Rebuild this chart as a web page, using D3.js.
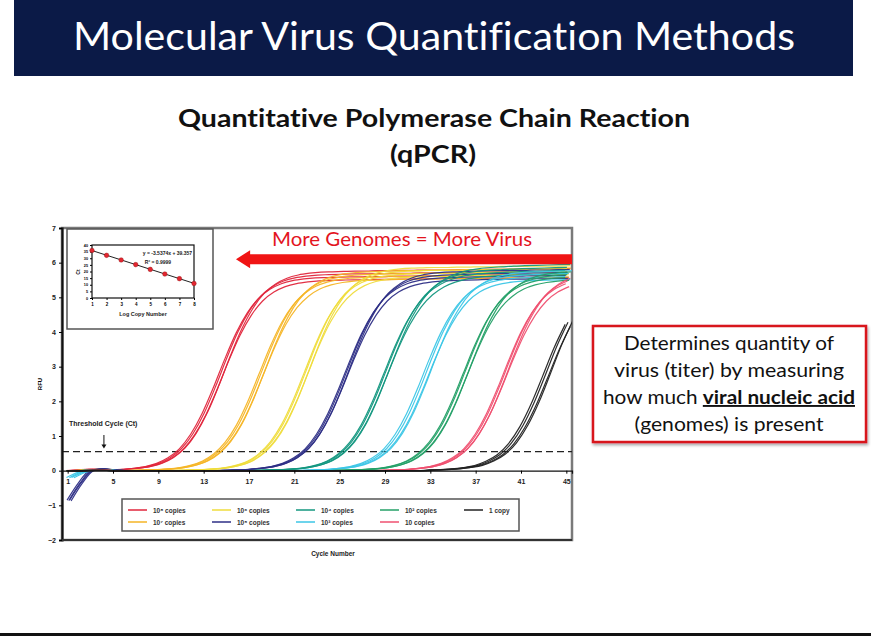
<!DOCTYPE html>
<html><head><meta charset="utf-8">
<script src="https://cdn.jsdelivr.net/npm/d3@7"></script>
<style>body{margin:0;background:#fff} svg{display:block} svg text{font-variant-ligatures:none}</style>
</head><body><svg id="c" width="871" height="636"></svg>
<script>
// ---------------- DATA ----------------
const slideTitle = "Molecular Virus Quantification Methods";
const chartTitle = ["Quantitative Polymerase Chain Reaction", "(qPCR)"];
const arrowText = "More Genomes = More Virus";
const boxLines = ["Determines quantity of", "virus (titer) by measuring", "how much ", "viral nucleic acid", "(genomes) is present"];

const cycles = d3.range(1, 46); // cycle numbers 1..45
const xTicks = [1, 5, 9, 13, 17, 21, 25, 29, 33, 37, 41, 45];
const yTicks = [-2, -1, 0, 1, 2, 3, 4, 5, 6, 7];
const threshold = 0.55;

const seriesLabels = ["10⁸ copies", "10⁷ copies", "10⁶ copies", "10⁵ copies", "10⁴ copies", "10³ copies", "10² copies", "10 copies", "1 copy"];
const seriesColors = ["#e0263c", "#f5b526", "#efdc3c", "#2e2f86", "#13977f", "#3cc6e6", "#24a067", "#ef5070", "#222222"];

// RFU per cycle (1..45)
const rfu1e8 = [0,0.02,0.04,0.03,0.02,0.04,0.07,0.12,0.21,0.37,0.63,1.05,1.64,2.39,3.21,3.96,4.55,4.97,5.23,5.39,5.48,5.53,5.56,5.57,5.58,5.59,5.59,5.60,5.60,5.61,5.61,5.62,5.62,5.62,5.63,5.63,5.63,5.64,5.64,5.64,5.65,5.65,5.65,5.66,5.66];
const rfu1e7 = [0,0,0.02,0.03,0.01,0,0.01,0.02,0.03,0.05,0.09,0.16,0.28,0.49,0.82,1.32,2.00,2.80,3.60,4.28,4.78,5.11,5.32,5.44,5.51,5.55,5.57,5.58,5.59,5.60,5.60,5.61,5.61,5.62,5.62,5.63,5.63,5.64,5.64,5.65,5.65,5.66,5.66,5.67,5.67];
const rfu1e6 = [0,0.01,0.03,0.04,0.02,0,0,0,0,0,0.01,0.02,0.03,0.05,0.09,0.16,0.28,0.50,0.84,1.35,2.04,2.85,3.67,4.36,4.87,5.21,5.42,5.54,5.61,5.65,5.67,5.68,5.69,5.69,5.70,5.70,5.71,5.71,5.72,5.72,5.72,5.73,5.73,5.73,5.74];
const rfu1e5 = [-0.85,-0.35,0.0,0.05,0.02,0,0,0,0,0,0,0,0,0,0.01,0.02,0.04,0.07,0.12,0.21,0.37,0.63,1.05,1.64,2.39,3.21,3.96,4.55,4.97,5.23,5.39,5.48,5.53,5.56,5.57,5.58,5.59,5.60,5.60,5.61,5.61,5.62,5.62,5.63,5.63];
const rfu1e4 = [0,0,0.02,0.03,0,0,0,0,0,0,0,0,0,0,0,0,0,0.01,0.02,0.03,0.05,0.09,0.16,0.28,0.49,0.82,1.32,2.00,2.80,3.60,4.28,4.80,5.15,5.38,5.52,5.61,5.66,5.69,5.71,5.73,5.74,5.75,5.76,5.77,5.78];
const rfu1e3 = [-0.2,-0.05,0.02,0.03,0,0,0,0,0,0,0,0,0,0,0,0,0,0,0,0,0,0.01,0.02,0.04,0.07,0.12,0.21,0.37,0.63,1.05,1.64,2.39,3.21,3.96,4.55,4.97,5.23,5.39,5.48,5.53,5.56,5.57,5.58,5.59,5.60];
const rfu1e2 = [0,0,0.02,0.02,0,0,0,0,0,0,0,0,0,0,0,0,0,0,0,0,0,0,0,0,0.01,0.02,0.03,0.05,0.09,0.16,0.28,0.49,0.82,1.32,2.00,2.80,3.60,4.28,4.78,5.11,5.32,5.44,5.51,5.55,5.57];
const rfu10  = [0,0,0.01,0.02,0,0,0,0,0,0,0,0,0,0,0,0,0,0,0,0,0,0,0,0,0,0,0,0,0.01,0.02,0.04,0.07,0.12,0.21,0.37,0.63,1.05,1.64,2.39,3.21,3.96,4.55,4.97,5.23,5.39];
const rfu1   = [0,0,0.01,0.01,0,0,0,0,0,0,0,0,0,0,0,0,0,0,0,0,0,0,0,0,0,0,0,0,0,0,0,0,0.02,0.03,0.05,0.09,0.15,0.27,0.46,0.78,1.27,1.93,2.72,3.53,4.22];
const seriesValues = [rfu1e8, rfu1e7, rfu1e6, rfu1e5, rfu1e4, rfu1e3, rfu1e2, rfu10, rfu1];

// replicate spread (cycle shift, RFU factor)
const replicateShift = [
  [-0.15, 0.05, 0.2, 0.35], [-0.1, 0.1, 0.25, 0.4], [-0.1, 0.05, 0.2, 0.35],
  [-0.05, 0.1, 0.2, 0.3], [-0.1, 0.05, 0.2, 0.35], [-0.1, 0.15, 0.35, 0.55],
  [-0.1, 0.05, 0.25, 0.4], [-0.05, 0.1, 0.25, 0.35], [-0.1, 0.15, 0.35, 0.6]];
const replicateScale = [1.0, 1.015, 0.985, 1.03];

// inset standard curve
const logCopy = [1, 2, 3, 4, 5, 6, 7, 8];
const ctValues = [35.9, 32.2, 28.7, 25.2, 21.6, 18.1, 14.6, 11.0];
const fitSlope = -3.5374, fitIntercept = 39.357;
const fitText = ["y = -3.5374x + 39.357", "R² = 0.9999"];
const insetYTicks = [0, 5, 10, 15, 20, 25, 30, 35, 40];

// ---------------- DRAW ----------------
const svg = d3.select("#c");
const slideFont = "Lato, 'Open Sans', sans-serif";
const chartFont = "'Liberation Sans', Arial, sans-serif";

// header
svg.append("rect").attr("x", 14).attr("y", 0).attr("width", 839).attr("height", 76).attr("fill", "#0b1a47");
svg.append("text").attr("x", 434).attr("y", 50).attr("text-anchor", "middle")
  .attr("fill", "#ffffff").style("font-family", slideFont).style("font-size", "38px")
  .attr("textLength", 722).attr("lengthAdjust", "spacingAndGlyphs").text(slideTitle);

// subtitle
svg.append("text").attr("x", 434).attr("y", 127).attr("text-anchor", "middle")
  .style("font-family", slideFont).style("font-weight", "bold").style("font-size", "25px").attr("fill", "#111")
  .attr("textLength", 512).attr("lengthAdjust", "spacingAndGlyphs").text(chartTitle[0]);
svg.append("text").attr("x", 433).attr("y", 163).attr("text-anchor", "middle")
  .style("font-family", slideFont).style("font-weight", "bold").style("font-size", "25px").attr("fill", "#111")
  .attr("textLength", 86).attr("lengthAdjust", "spacingAndGlyphs").text(chartTitle[1]);

// main chart scales
const x = d3.scaleLinear().domain([0.5, 45.5]).range([62, 572]);
const y = d3.scaleLinear().domain([-2, 7]).range([540, 228]);

const defs = svg.append("defs");
defs.append("clipPath").attr("id", "plotclip").append("rect")
  .attr("x", x(0.5)).attr("y", y(7)).attr("width", x(45.5) - x(0.5)).attr("height", y(-2) - y(7));
const sh = defs.append("filter").attr("id", "shadow").attr("x", "-10%").attr("y", "-10%").attr("width", "120%").attr("height", "130%");
sh.append("feDropShadow").attr("dx", 1).attr("dy", 2).attr("stdDeviation", 1.5).attr("flood-color", "#000").attr("flood-opacity", 0.35);

// plot frame
svg.append("rect").attr("x", x(0.5)).attr("y", y(7)).attr("width", x(45.5) - x(0.5)).attr("height", y(-2) - y(7))
  .attr("fill", "#fff").attr("stroke", "#7a7a7a").attr("stroke-width", 2.5);

// threshold line
svg.append("line").attr("x1", x(0.5)).attr("x2", x(45.5)).attr("y1", y(threshold)).attr("y2", y(threshold))
  .attr("stroke", "#222").attr("stroke-width", 1.4).attr("stroke-dasharray", "7,4");

// curves
const line = d3.line().x(d => x(d[0])).y(d => y(d[1])).curve(d3.curveMonotoneX);
const curvesG = svg.append("g").attr("clip-path", "url(#plotclip)");
seriesValues.forEach((vals, g) => {
  replicateShift[g].forEach((s, r) => {
    const pts = cycles.map((c, i) => [c + s, vals[i] * replicateScale[r]]);
    curvesG.append("path").attr("d", line(pts)).attr("fill", "none")
      .attr("stroke", seriesColors[g]).attr("stroke-width", 1.2).attr("opacity", 0.95);
  });
});

// axes
const yAxis = svg.append("g").attr("transform", `translate(${x(0.5)},0)`)
  .call(d3.axisLeft(y).tickValues(yTicks).tickSize(3).tickPadding(3).tickFormat(d3.format("d")));
yAxis.select(".domain").attr("stroke", "#111").attr("stroke-width", 2.2);
yAxis.selectAll("text").style("font-family", chartFont).style("font-size", "7px").style("font-weight", "bold").attr("fill", "#222");

const xAxis = svg.append("g").attr("transform", `translate(0,${y(0)})`)
  .call(d3.axisBottom(x).tickValues(xTicks).tickSize(3).tickPadding(5));
xAxis.select(".domain").attr("stroke", "#111").attr("stroke-width", 1.2);
xAxis.selectAll("text").style("font-family", chartFont).style("font-size", "7px").style("font-weight", "bold").attr("fill", "#222");

// bottom border darker
svg.append("line").attr("x1", x(0.5)).attr("x2", x(45.5)).attr("y1", y(-2)).attr("y2", y(-2)).attr("stroke", "#333").attr("stroke-width", 2);

// axis titles
svg.append("text").attr("transform", `translate(42,${y(2.5)}) rotate(-90)`).attr("text-anchor", "middle")
  .style("font-family", chartFont).style("font-size", "6px").style("font-weight", "bold").text("RFU");
svg.append("text").attr("x", 333).attr("y", 556).attr("text-anchor", "middle")
  .style("font-family", chartFont).style("font-size", "6.5px").style("font-weight", "bold").attr("fill", "#222").text("Cycle Number");

// threshold annotation
svg.append("text").attr("x", 69).attr("y", 426)
  .style("font-family", chartFont).style("font-size", "7px").style("font-weight", "bold").attr("fill", "#222").text("Threshold Cycle (Ct)");
svg.append("line").attr("x1", x(4.2)).attr("x2", x(4.2)).attr("y1", 435).attr("y2", y(threshold) - 6).attr("stroke", "#111").attr("stroke-width", 1);
svg.append("path").attr("d", `M${x(4.2) - 2.5},${y(threshold) - 7}L${x(4.2) + 2.5},${y(threshold) - 7}L${x(4.2)},${y(threshold) - 3}Z`).attr("fill", "#111");

// legend
const lg = svg.append("g");
lg.append("rect").attr("x", 122).attr("y", 499).attr("width", 397).attr("height", 32)
  .attr("fill", "#fff").attr("stroke", "#555").attr("stroke-width", 1.5);
seriesLabels.forEach((lab, i) => {
  const col = Math.floor(i / 2), row = i % 2;
  const lx = 128 + col * 84, ly = 510 + row * 12;
  lg.append("line").attr("x1", lx).attr("x2", lx + 19).attr("y1", ly).attr("y2", ly)
    .attr("stroke", seriesColors[i]).attr("stroke-width", 1.5);
  lg.append("text").attr("x", lx + 25).attr("y", ly + 2.5)
    .style("font-family", chartFont).style("font-size", "6.5px").style("font-weight", "bold").attr("fill", "#333").text(lab);
});

// arrow + text
const ay = y(6.1);
const tipX = x(15.85), headBack = x(17.1);
svg.append("path").attr("d",
  `M${tipX},${ay}L${headBack},${ay - 9}L${headBack},${ay - 5}L${x(45.5)},${ay - 5}L${x(45.5)},${ay + 5}L${headBack},${ay + 5}L${headBack},${ay + 9}Z`)
  .attr("fill", "#f01414");
svg.append("text").attr("x", 402).attr("y", 246).attr("text-anchor", "middle")
  .style("font-family", slideFont).style("font-size", "19px").attr("fill", "#e3141e")
  .attr("textLength", 260).attr("lengthAdjust", "spacingAndGlyphs").text(arrowText);

// inset
const inset = svg.append("g");
inset.append("rect").attr("x", 67).attr("y", 229).attr("width", 146).attr("height", 100)
  .attr("fill", "#fff").attr("stroke", "#555").attr("stroke-width", 1.5);
const ix = d3.scaleLinear().domain([1, 8]).range([92, 194]);
const iy = d3.scaleLinear().domain([0, 40]).range([298, 245]);
inset.append("rect").attr("x", 92).attr("y", 245).attr("width", 102).attr("height", 53)
  .attr("fill", "#fff").attr("stroke", "#111").attr("stroke-width", 1.2);
const ixA = inset.append("g").attr("transform", "translate(0,298)")
  .call(d3.axisBottom(ix).tickValues(logCopy).tickSize(2).tickPadding(3).tickFormat(d3.format("d")));
ixA.selectAll("text").style("font-family", chartFont).style("font-size", "4.5px").style("font-weight", "bold");
ixA.select(".domain").remove();
const iyA = inset.append("g").attr("transform", "translate(92,0)")
  .call(d3.axisLeft(iy).tickValues(insetYTicks).tickSize(2).tickPadding(2).tickFormat(d3.format("d")));
iyA.selectAll("text").style("font-family", chartFont).style("font-size", "3.8px").style("font-weight", "bold");
iyA.select(".domain").remove();
inset.append("line").attr("x1", ix(1)).attr("x2", ix(8))
  .attr("y1", iy(fitIntercept + fitSlope * 1)).attr("y2", iy(fitIntercept + fitSlope * 8))
  .attr("stroke", "#222").attr("stroke-width", 1);
inset.selectAll("circle.pt").data(logCopy).join("circle").attr("class", "pt")
  .attr("cx", d => ix(d)).attr("cy", (d, i) => iy(ctValues[i])).attr("r", 2.3)
  .attr("fill", "#e32630").attr("stroke", "#8a1010").attr("stroke-width", 0.4);
inset.append("text").attr("x", 192).attr("y", 254.5).attr("text-anchor", "end")
  .style("font-family", chartFont).style("font-size", "5px").style("font-weight", "bold").attr("fill", "#222").text(fitText[0]);
inset.append("text").attr("x", 158).attr("y", 263.5).attr("text-anchor", "middle")
  .style("font-family", chartFont).style("font-size", "5px").style("font-weight", "bold").attr("fill", "#222").text(fitText[1]);
inset.append("text").attr("transform", "translate(80,272) rotate(-90)").attr("text-anchor", "middle")
  .style("font-family", chartFont).style("font-size", "5px").style("font-weight", "bold").text("Ct");
inset.append("text").attr("x", 143).attr("y", 316).attr("text-anchor", "middle")
  .style("font-family", chartFont).style("font-size", "5.5px").style("font-weight", "bold").attr("fill", "#222").text("Log Copy Number");

// right text box
svg.append("rect").attr("x", 593).attr("y", 326).attr("width", 273).attr("height", 116)
  .attr("fill", "#fff").attr("stroke", "#d8141c").attr("stroke-width", 2.5).attr("filter", "url(#shadow)");
const tb = svg.append("g").style("font-family", slideFont).style("font-size", "19px").attr("fill", "#111");
tb.append("text").attr("x", 729).attr("y", 350).attr("text-anchor", "middle")
  .attr("textLength", 210).attr("lengthAdjust", "spacingAndGlyphs").text(boxLines[0]);
tb.append("text").attr("x", 729).attr("y", 377).attr("text-anchor", "middle")
  .attr("textLength", 230).attr("lengthAdjust", "spacingAndGlyphs").text(boxLines[1]);
const t3 = tb.append("text").attr("x", 729).attr("y", 404).attr("text-anchor", "middle")
  .attr("textLength", 252).attr("lengthAdjust", "spacingAndGlyphs");
t3.append("tspan").text(boxLines[2]);
t3.append("tspan").style("font-weight", "bold").style("text-decoration", "underline").text(boxLines[3]);
tb.append("text").attr("x", 729).attr("y", 431).attr("text-anchor", "middle")
  .attr("textLength", 189).attr("lengthAdjust", "spacingAndGlyphs").text(boxLines[4]);

// bottom edge line
svg.append("rect").attr("x", 0).attr("y", 633).attr("width", 871).attr("height", 3).attr("fill", "#111");
</script></body></html>
